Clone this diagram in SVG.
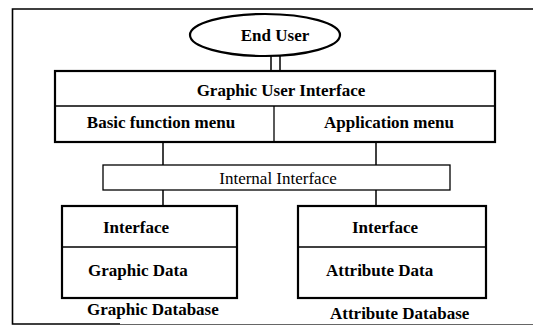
<svg xmlns="http://www.w3.org/2000/svg" width="533" height="327" viewBox="0 0 533 327">
<style>
  .b { font-family: "Liberation Serif", "Times New Roman", serif; font-weight: bold; font-size: 17px; fill: #000; }
  .r { font-family: "Liberation Serif", "Times New Roman", serif; font-size: 17px; fill: #000; }
  .box { fill: #fff; stroke: #000; stroke-width: 2.2; }
  .thin { fill: none; stroke: #000; stroke-width: 1.3; }
  .con { fill: none; stroke: #000; stroke-width: 1.5; }
</style>
<rect width="533" height="327" fill="#fff"/>
<g id="frame">
  <path d="M533,9 H12.5 V324 H120" fill="none" stroke="#000" stroke-width="1.6"/>
  <path d="M120,324.5 H533" fill="none" stroke="#666" stroke-width="1.2"/>
</g>
<g id="connectors">
  <line class="con" x1="271" y1="56" x2="271" y2="71"/>
  <line class="con" x1="280" y1="56" x2="280" y2="71"/>
  <line class="con" x1="163" y1="142" x2="163" y2="165"/>
  <line class="con" x1="376" y1="142" x2="376" y2="165"/>
  <line class="con" x1="163" y1="190" x2="163" y2="206"/>
  <line class="con" x1="376" y1="190" x2="376" y2="206"/>
</g>
<g id="end-user">
  <ellipse cx="265" cy="35" rx="75" ry="21" fill="#fff" stroke="#000" stroke-width="2.2"/>
  <text class="b" x="275" y="41" text-anchor="middle">End User</text>
</g>
<g id="gui">
  <rect class="box" x="55" y="71" width="440" height="71"/>
  <line class="thin" x1="55" y1="106" x2="495" y2="106"/>
  <line class="thin" x1="274" y1="106" x2="274" y2="142"/>
  <text class="b" x="281" y="96" text-anchor="middle">Graphic User Interface</text>
</g>
<g id="basic-menu">
  <text class="b" x="161" y="128" text-anchor="middle">Basic function menu</text>
</g>
<g id="app-menu">
  <text class="b" x="389" y="128" text-anchor="middle">Application menu</text>
</g>
<g id="internal-interface">
  <rect x="103" y="165" width="347" height="25" fill="#fff" stroke="#000" stroke-width="1.3"/>
  <text class="r" x="278" y="184" text-anchor="middle">Internal Interface</text>
</g>
<g id="graphic-database">
  <rect class="box" x="62" y="206" width="175" height="92" stroke-width="2.5"/>
  <line class="thin" x1="62" y1="247" x2="237" y2="247"/>
  <text class="b" x="103" y="233">Interface</text>
  <text class="b" x="88" y="276">Graphic Data</text>
  <text class="b" x="87" y="315">Graphic Database</text>
</g>
<g id="attribute-database">
  <rect class="box" x="298" y="206" width="188" height="92" stroke-width="2.5"/>
  <line class="thin" x1="298" y1="247" x2="486" y2="247"/>
  <text class="b" x="352" y="233">Interface</text>
  <text class="b" x="326" y="276">Attribute Data</text>
  <text class="b" x="330" y="319">Attribute Database</text>
</g>
</svg>
